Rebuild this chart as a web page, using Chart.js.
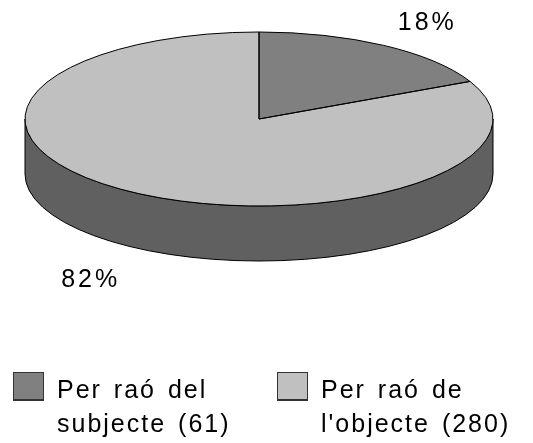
<!DOCTYPE html>
<html>
<head>
<meta charset="utf-8">
<style>
  html, body { margin: 0; padding: 0; background: #fff; overflow: hidden; }
  #wrap { position: relative; width: 533px; height: 443px; }
  #pie { position: absolute; left: 0; top: 0; }
  .swatch { position: absolute; top: 372px; width: 29px; height: 26px; border: 1px solid #333; border-bottom-width: 2px; box-sizing: content-box; }
  .entry { position: absolute; top: 372px; font: 25px/34px "Liberation Sans", Arial, sans-serif; letter-spacing: 2px; word-spacing: 3px; color: #000; white-space: nowrap; }
</style>
<script src="https://cdn.jsdelivr.net/npm/chart.js@4"></script>
</head>
<body>
<div id="wrap">
  <canvas id="pie" width="533" height="443"></canvas>
  <div class="swatch" style="left:13px" id="sw0"></div>
  <div class="entry" style="left:57px" id="en0"></div>
  <div class="swatch" style="left:277px" id="sw1"></div>
  <div class="entry" style="left:321px" id="en1"></div>
</div>
<script>
const categories = ["Per raó del subjecte (61)", "Per raó de l'objecte (280)"];
const legendLines = [["Per raó del", "subjecte (61)"], ["Per raó de", "l'objecte (280)"]];
const values = [61, 280];
const sliceColors = ["#808080", "#c0c0c0"];
const wallColor = "#606060";

const squash = 87 / 234;   // ellipse height / width
const depth = 55;          // height of the side wall

function slicePath(ctx, arc) {
  ctx.beginPath();
  ctx.moveTo(arc.x, arc.y);
  ctx.arc(arc.x, arc.y, arc.outerRadius, arc.startAngle, arc.endAngle);
  ctx.closePath();
}

// flatten the library's pie into an ellipse and add the wall and outlines
const tiltPlugin = {
  id: "tilt",
  beforeDatasetDraw(chart) {
    const ctx = chart.ctx;
    const arc = chart.getDatasetMeta(0).data[0];
    const rx = arc.outerRadius, ry = rx * squash;

    ctx.save();
    ctx.beginPath();
    ctx.ellipse(arc.x, arc.y, rx, ry, 0, 0, Math.PI);
    ctx.lineTo(arc.x - rx, arc.y + depth);
    ctx.ellipse(arc.x, arc.y + depth, rx, ry, 0, Math.PI, 0, true);
    ctx.closePath();
    ctx.fillStyle = wallColor;
    ctx.fill();
    ctx.strokeStyle = "#000";
    ctx.lineWidth = 1;
    ctx.stroke();
    ctx.restore();

    ctx.save();
    ctx.translate(arc.x, arc.y);
    ctx.scale(1, squash);
    ctx.translate(-arc.x, -arc.y);
  },
  afterDatasetDraw(chart) {
    const ctx = chart.ctx;
    ctx.restore();
    chart.getDatasetMeta(0).data.forEach((arc, i) => {
      ctx.save();
      ctx.translate(arc.x, arc.y);
      ctx.scale(1, squash);
      ctx.translate(-arc.x, -arc.y);
      slicePath(ctx, arc);
      ctx.restore();
      ctx.strokeStyle = "#000";
      ctx.lineWidth = 1;
      ctx.stroke();

      // percent label, outside the slice
      const mid = (arc.startAngle + arc.endAngle) / 2;
      const lx = arc.x + Math.cos(mid) * arc.outerRadius * 1.35;
      let ly = arc.y + Math.sin(mid) * arc.outerRadius * squash * 1.30;
      if (Math.sin(mid) > 0) ly += depth + 10;
      const total = values.reduce((a, b) => a + b, 0);
      ctx.save();
      ctx.fillStyle = "#000";
      ctx.font = '25px "Liberation Sans", Arial, sans-serif';
      ctx.letterSpacing = "3px";
      ctx.textAlign = "center";
      ctx.textBaseline = "middle";
      ctx.fillText(Math.round(values[i] / total * 100) + "%", lx, ly);
      ctx.restore();
    });
  }
};

new Chart(document.getElementById("pie"), {
  type: "pie",
  data: {
    labels: categories,
    datasets: [{
      data: values,
      backgroundColor: sliceColors,
      borderWidth: 0,
      clip: false
    }]
  },
  options: {
    responsive: false,
    animation: false,
    radius: 234,
    layout: { padding: { left: 0, right: 15, top: 0, bottom: 205 } },
    plugins: {
      legend: { display: false },
      tooltip: { enabled: false }
    }
  },
  plugins: [tiltPlugin]
});

legendLines.forEach((lines, i) => {
  document.getElementById("sw" + i).style.background = sliceColors[i];
  document.getElementById("en" + i).innerHTML = lines.join("<br>");
});
</script>
</body>
</html>
